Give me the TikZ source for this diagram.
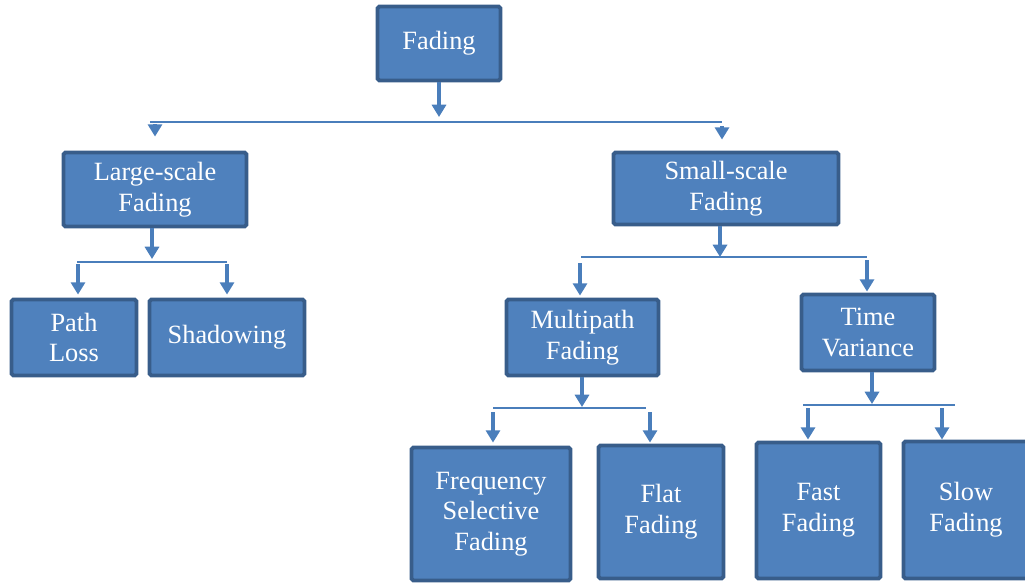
\documentclass[tikz,border=0pt]{standalone}
\usepackage{fontspec}
\setmainfont{Liberation Serif}
\usetikzlibrary{arrows.meta,calc}
\definecolor{boxFill}{HTML}{4F81BD}
\definecolor{boxLine}{HTML}{385D8A}
\definecolor{arrowBlue}{HTML}{4A7EBB}

\begin{document}
\begin{tikzpicture}
[x=0.02cm,y=-0.02cm,
 block/.style={shape=rectangle,draw=boxLine,fill=boxFill,line width=2.2pt,
	rounded corners=1pt,text=white,align=center,inner sep=2pt,
	font=\fontsize{15}{17.5}\selectfont},
 arr/.style={draw=arrowBlue,line width=2.2pt,-{Triangle[width=8pt,length=7pt]}},
 bus/.style={draw=arrowBlue,line width=1.1pt}]
\useasboundingbox (0,0) rectangle (1025,585);

% boxes
\node[block,minimum width=2.46cm,minimum height=1.48cm] (fading) at (439,43.5) {Fading};
\node[block,minimum width=3.66cm,minimum height=1.48cm] (largeScale) at (155,189.5) {Large-scale\\Fading};
\node[block,minimum width=4.50cm,minimum height=1.44cm] (smallScale) at (726,188.5) {Small-scale\\Fading};
\node[block,minimum width=2.50cm,minimum height=1.52cm] (pathLoss) at (74,337.5) {Path\\Loss};
\node[block,minimum width=3.10cm,minimum height=1.52cm] (shadowing) at (227,337.5) {Shadowing};
\node[block,minimum width=3.04cm,minimum height=1.52cm] (multipath) at (582.5,337.5) {Multipath\\Fading};
\node[block,minimum width=2.66cm,minimum height=1.52cm] (timeVar) at (868,332.5) {Time\\Variance};
\node[block,minimum width=3.18cm,minimum height=2.66cm] (freqSel) at (491,514) {Frequency\\Selective\\Fading};
\node[block,minimum width=2.50cm,minimum height=2.66cm] (flat) at (661,512) {Flat\\Fading};
\node[block,minimum width=2.48cm,minimum height=2.72cm] (fast) at (818.5,510.5) {Fast\\Fading};
\node[block,minimum width=2.50cm,minimum height=2.74cm] (slow) at (966,510) {Slow\\Fading};

% bus lines
\coordinate (busL0) at (150,122); \coordinate (busR0) at (722,122);
\coordinate (busL1) at (77,262);  \coordinate (busR1) at (227,262);
\coordinate (busL2) at (581,257); \coordinate (busR2) at (867,257);
\coordinate (busL3) at (493,408); \coordinate (busR3) at (646,408);
\coordinate (busL4) at (803,405); \coordinate (busR4) at (955,405);

% arrow tips under parents
\coordinate (tip0) at (439,117);
\coordinate (tip1) at (152,259);
\coordinate (tip2) at (720,257);
\coordinate (tip3) at (582,407);
\coordinate (tip4) at (872,404);

% arrow starts above children
\coordinate (drop1) at (155,124);
\coordinate (drop2) at (722,126);
\coordinate (drop3) at (78,264);
\coordinate (drop4) at (227,264);
\coordinate (drop5) at (580,263);
\coordinate (drop6) at (867,260);
\coordinate (drop7) at (493,412);
\coordinate (drop8) at (650,412);
\coordinate (drop9) at (808,408);
\coordinate (drop10) at (942,408);

\path
\foreach \busNo in {0,...,4}
{
	(busL\busNo) edge[bus] (busR\busNo)
};
\path
\foreach \parNode/\tipPt in {fading/tip0, largeScale/tip1, smallScale/tip2, multipath/tip3, timeVar/tip4}
{
	(\tipPt |- \parNode.south) edge[arr] (\tipPt)
};
\path
\foreach \dropPt/\kidNode/\gapLen in {drop1/largeScale/0.28cm, drop2/smallScale/0.22cm,
	drop3/pathLoss/0.06cm, drop4/shadowing/0.06cm, drop5/multipath/0.04cm,
	drop6/timeVar/0.02cm, drop7/freqSel/0.06cm, drop8/flat/0.02cm,
	drop9/fast/0.02cm, drop10/slow/0cm}
{
	(\dropPt) edge[arr,shorten >=\gapLen] (\dropPt |- \kidNode.north)
};
\end{tikzpicture}
\end{document}
